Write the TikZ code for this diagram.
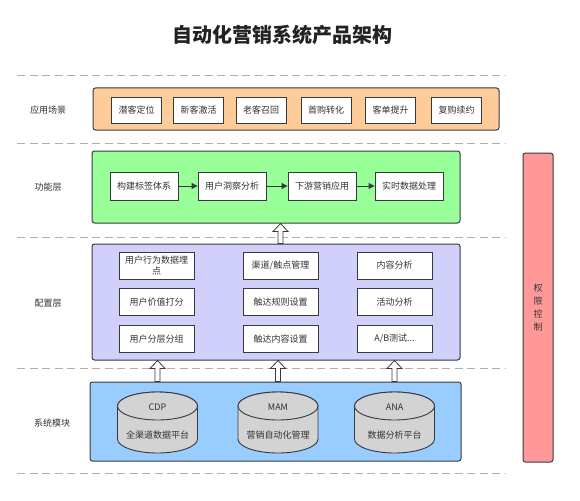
\documentclass[tikz,border=0pt]{standalone}
\usepackage{fontspec}
\setmainfont{Noto Sans CJK SC}
\usetikzlibrary{positioning, shapes.geometric, arrows.meta, calc}
\definecolor{arLine}{RGB}{54,57,61}
\definecolor{arText}{RGB}{51,51,51}
\definecolor{arTitle}{RGB}{34,34,34}
\definecolor{arOrange}{RGB}{255,204,153}
\definecolor{arGreen}{RGB}{153,255,153}
\definecolor{arPurple}{RGB}{208,208,250}
\definecolor{arBlue}{RGB}{153,204,255}
\definecolor{arRed}{RGB}{255,153,153}
\definecolor{arGray}{RGB}{211,211,211}
\definecolor{arDash}{RGB}{175,175,175}

\tikzset{
  layer/.style={draw=arLine, line width=1pt, rounded corners=2.5pt, inner sep=0pt},
  item/.style={draw=arLine, line width=0.9pt, fill=white, text=arText, font=\small,
    inner sep=0pt, align=center},
  tag/.style={text=arText, font=\small},
  sep/.style={dash pattern=on 8pt off 4.5pt, arDash, line width=0.8pt},
  hollow/.style={draw=arLine, fill=white, line width=0.8pt, line join=miter},
  flow/.style={-{Triangle[length=6pt,width=6pt]}, arLine, line width=1pt},
  dbline/.style={draw=arLine, line width=0.9pt, fill=arGray},
  cfgbox/.style={item, minimum width=75pt, minimum height=27pt},
}

% hollow up arrow from #1 (tail) to #2 (tip)
\newcommand{\blockup}[2]{%
  \draw[hollow] ($(#1)+(-2.5,0)$) -- ($(#2)+(-2.5,8)$) -- ($(#2)+(-7.5,8)$) -- (#2)
    -- ($(#2)+(7.5,8)$) -- ($(#2)+(2.5,8)$) -- ($(#1)+(2.5,0)$) -- cycle;}

\begin{document}
\begin{tikzpicture}[x=1pt, y=-1pt]
  % Canvas
  \fill[white] (0,0) rectangle (580,500);
  \useasboundingbox (0,0) rectangle (580,500);

  % Title
  \node[font=\bfseries\fontsize{20}{24}\selectfont, text=arTitle] (title) at (282,35)
    {自动化营销系统产品架构};

  % Separators
  \foreach \y in {75,143,237,368,473}
    \draw[sep] (17,\y) -- (505,\y);

  % Layers
  \node[layer, fill=arOrange, minimum width=406pt, minimum height=42pt] (app) at (296,109) {};
  \node[layer, fill=arGreen, minimum width=368pt, minimum height=72pt] (fun) at (276,187) {};
  \node[layer, fill=arPurple, minimum width=368pt, minimum height=116pt] (cfg) at (276,302) {};
  \node[layer, fill=arBlue, minimum width=371pt, minimum height=79pt] (sys) at (275.5,421.5) {};
  \node[layer, fill=arRed, minimum width=30pt, minimum height=309pt] (auth) at (538,307.5) {};
  \node[text=arText, align=center, font=\fontsize{9}{13}\selectfont] (authT) at (auth)
    {权\\限\\控\\制};

  % Row labels
  \node[tag] (appL) at (48,110) {应用场景};
  \node[tag] (funL) at (48,187) {功能层};
  \node[tag] (cfgL) at (48,303) {配置层};
  \node[tag] (sysL) at (52,423) {系统模块};

  % Scenes
  \foreach \x/\n/\t in {136.5/a1/潜客定位, 198.5/a2/新客激活, 261/a3/老客召回,
                        326/a4/首购转化, 390.5/a5/客单提升, 456.5/a6/复购续约}
    \node[item, minimum width=50pt, minimum height=26pt] (\n) at (\x,110) {\t};

  % Functions
  \foreach \x/\n/\t in {144/f1/构建标签体系, 232/f2/用户洞察分析,
                        322/f3/下游营销应用, 409/f4/实时数据处理}
    \node[item, minimum width=68pt, minimum height=28pt] (\n) at (\x,186) {\t};
  \draw[flow] (f1) -- (f2);
  \draw[flow] (f2) -- (f3);
  \draw[flow] (f3) -- (f4);

  % Configuration
  \node[cfgbox, font=\fontsize{9}{10.5}\selectfont] (c1) at (156.5,265.5) {用户行为数据埋\\点};
  \node[cfgbox] (c2) at (280.5,265.5) {渠道/触点管理};
  \node[cfgbox] (c3) at (394.5,265.5) {内容分析};
  \node[cfgbox] (c4) at (156.5,302) {用户价值打分};
  \node[cfgbox] (c5) at (280.5,302) {触达规则设置};
  \node[cfgbox] (c6) at (394.5,302) {活动分析};
  \node[cfgbox] (c7) at (156.5,339) {用户分层分组};
  \node[cfgbox] (c8) at (280.5,339) {触达内容设置};
  \node[cfgbox] (c9) at (394.5,339) {A/B测试...};

  % Modules
  \foreach \x/\n/\a/\t in {157.5/cdp/CDP/全渠道数据平台, 278/mam/MAM/营销自动化管理,
                           394.5/ana/ANA/数据分析平台} {
    \node[minimum width=80pt, minimum height=61pt, inner sep=0pt] (\n) at (\x,422.5) {};
    \draw[dbline] (\x-40,406) -- (\x-40,439)
      arc[start angle=180, end angle=0, x radius=40, y radius=14] -- (\x+40,406)
      arc[start angle=0, end angle=-180, x radius=40, y radius=14] -- cycle;
    \draw[dbline] (\x,406) ellipse[x radius=40, y radius=14];
    \node[text=arText, font=\small] (\n A) at (\x,407) {\a};
    \node[text=arText, font=\small] (\n T) at (\x,435) {\t};
  }

  % Block arrows
  \coordinate (t0) at (c2.north |- fun.south);
  \coordinate (b0) at (c2.north |- cfg.north);
  \blockup{b0}{t0}
  \foreach \n in {cdp, mam, ana} {
    \coordinate (\n b) at (\n.north |- sys.north);
    \coordinate (\n t) at (\n.north |- cfg.south);
    \blockup{\n b}{\n t}
  }
\end{tikzpicture}
\end{document}
